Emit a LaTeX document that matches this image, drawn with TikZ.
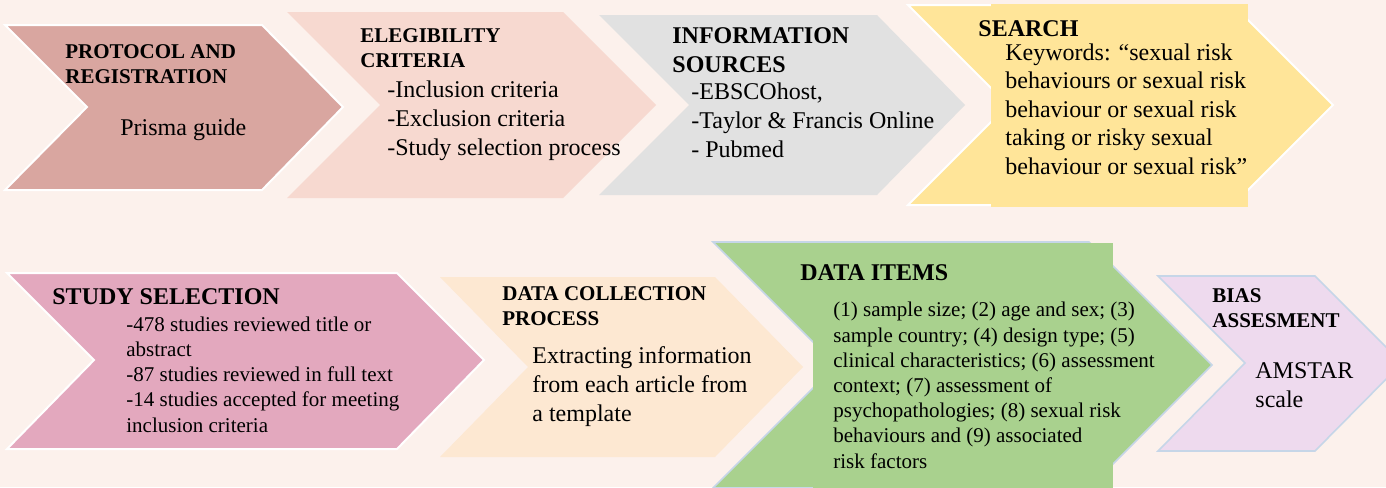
\documentclass[tikz,border=0pt]{standalone}
\usepackage{fontspec}
\setmainfont{Liberation Serif}
\definecolor{bgcream}{HTML}{FCF1EC}
\definecolor{protocolrose}{HTML}{D9A6A0}
\definecolor{eligpink}{HTML}{F7D9D0}
\definecolor{infogrey}{HTML}{E1E1E1}
\definecolor{searchyellow}{HTML}{FFE599}
\definecolor{studymauve}{HTML}{E3A8BE}
\definecolor{collpeach}{HTML}{FDE8D2}
\definecolor{itemsgreen}{HTML}{A9D18E}
\definecolor{biaslilac}{HTML}{EEDAEE}
\definecolor{edgeblue}{HTML}{C6D6E8}

\begin{document}
\begin{tikzpicture}[x=0.5pt, y=-0.5pt,
    every node/.style={inner sep=0pt, anchor=base west, align=left},
    head/.style={font=\fontsize{12}{14.5}\selectfont\bfseries},
    headsm/.style={font=\fontsize{10.5}{12.5}\selectfont\bfseries},
    body/.style={font=\fontsize{12}{14.4}\selectfont},
    bodysm/.style={font=\fontsize{10.5}{12.6}\selectfont},
    whiteline/.style={draw=white, line width=1pt},
    blueline/.style={draw=edgeblue, line width=0.8pt}]
        % Page
        \fill[bgcream] (0,0) rectangle (1386,487);
        \useasboundingbox (0,0) rectangle (1386,487);

        % Top row chevrons
        \filldraw[protocolrose, whiteline] (5,25) -- (262,25) -- (343,107) -- (262,190) -- (5,190) -- (87,107) -- cycle;
        \fill[eligpink] (287,12) -- (563,12) -- (656,105) -- (563,198) -- (287,198) -- (380,105) -- cycle;
        \fill[infogrey] (599,15) -- (877,15) -- (965,105) -- (877,195) -- (599,195) -- (689,105) -- cycle;
        \filldraw[searchyellow, whiteline] (908,5) -- (1233,5) -- (1333,105) -- (1233,205) -- (908,205) -- (1008,105) -- cycle;
        \fill[searchyellow] (991,4) rectangle (1248,207);

        % Bottom row chevrons
        \filldraw[studymauve, whiteline] (7,273) -- (397,273) -- (484,360) -- (397,449) -- (7,449) -- (94,360) -- cycle;
        \fill[collpeach] (440,277) -- (715,277) -- (803,367) -- (715,457) -- (440,457) -- (528,367) -- cycle;
        \filldraw[itemsgreen, blueline] (713,242) -- (1089,242) -- (1212,365) -- (1089,488) -- (713,488) -- (836,365) -- cycle;
        \fill[itemsgreen] (813,242.5) rectangle (1113,490);
        \filldraw[biaslilac, blueline] (1158,276) -- (1315,276) -- (1402,363) -- (1315,451) -- (1158,451) -- (1245,363) -- cycle;

        % Texts, top row (placed at the base of their last line)
        \node[headsm] (PROT) at (65,83) {PROTOCOL AND\\REGISTRATION};
        \node[body] (PRISMA) at (120,135) {Prisma guide};
        \node[headsm] (ELEG) at (360,67) {ELEGIBILITY\\CRITERIA};
        \node[body] (CRIT) at (387,155) {-Inclusion criteria\\-Exclusion criteria\\-Study selection process};
        \node[head] (INFO) at (672,72) {INFORMATION\\SOURCES};
        \node[body] (SRC) at (691,157) {-EBSCOhost,\\-Taylor \& Francis Online\\- Pubmed};
        \node[head] (SEARCH) at (978,36) {SEARCH};
        \node[body, font=\fontsize{12}{14.25}\selectfont] (KEYW) at (1005,174) {Keywords: “sexual risk\\behaviours or sexual risk\\behaviour or sexual risk\\taking or risky sexual\\behaviour or sexual risk”};

        % Texts, bottom row
        \node[head] (STUDY) at (52,304) {STUDY SELECTION};
        \node[bodysm] (SEL) at (126,432) {-478 studies reviewed title or\\abstract\\-87 studies reviewed in full text\\-14 studies accepted for meeting\\inclusion criteria};
        \node[headsm] (COLL) at (502,325) {DATA COLLECTION\\PROCESS};
        \node[body] (EXTR) at (532,421) {Extracting information\\from each article from\\a template};
        \node[head] (ITEMS) at (800,280) {DATA ITEMS};
        \node[bodysm] (LIST) at (833,468) {(1) sample size; (2) age and sex; (3)\\sample country; (4) design type; (5)\\clinical characteristics; (6) assessment\\context; (7) assessment of\\psychopathologies; (8) sexual risk\\behaviours and (9) associated\\risk factors};
        \node[headsm] (BIAS) at (1212,327) {BIAS\\ASSESMENT};
        \node[body] (AMSTAR) at (1255,407) {AMSTAR\\scale};
\end{tikzpicture}
\end{document}
